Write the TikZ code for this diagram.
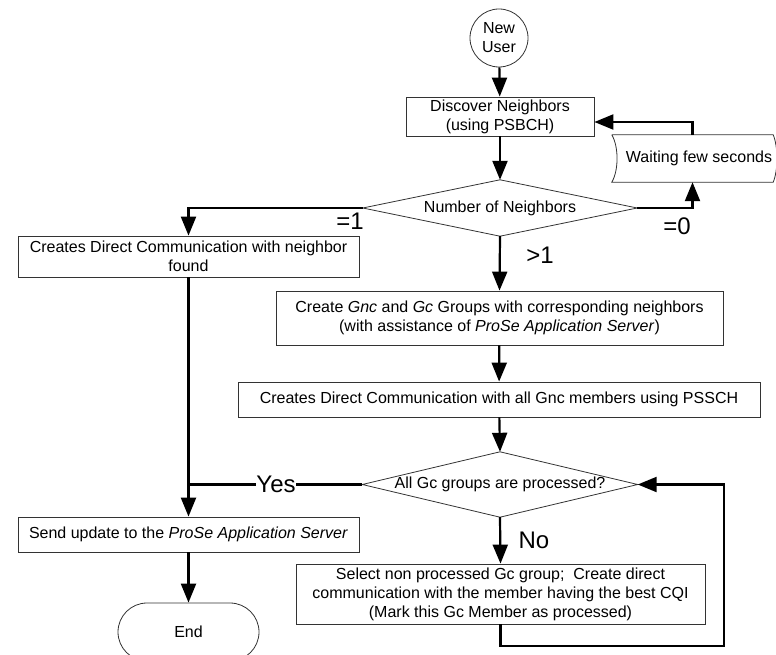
\documentclass[tikz,border=0pt]{standalone}
\usepackage{fontspec}
\setmainfont{Liberation Sans}
\usetikzlibrary{arrows.meta,calc}
\begin{document}
\begin{tikzpicture}[x=1pt,y=-1pt,
  txt/.style={inner sep=0pt, align=center, font=\fontsize{16}{19}\selectfont},
  box/.style={txt, draw=black!80, line width=0.8pt, rectangle},
  shapeline/.style={draw=black!80, line width=0.8pt},
  conn/.style={line width=2.2pt, -{Triangle[length=19pt,width=15pt]}},
  wire/.style={line width=2.2pt},
  lbl/.style={inner sep=1pt, font=\fontsize{24}{28}\selectfont}
]
\useasboundingbox (0,0) rectangle (776,655);

% nodes
\node[box, circle, minimum size=58pt] (start) at (499,38) {New\\User};
\node[box, minimum width=188pt, minimum height=39pt] (disc) at (500,116.5) {Discover Neighbors\\(using PSBCH)};
\node[txt, minimum width=161pt, minimum height=47pt] (wait) at (692.5,158.5) {\hspace*{13pt}Waiting few seconds};
\draw[shapeline] (wait.north west) -- (wait.north east)
  .. controls +(5,12) and +(5,-12) .. (wait.south east)
  -- (wait.south west)
  .. controls +(7,-12) and +(7,12) .. (wait.north west);
\node[txt, minimum width=274pt, minimum height=56pt] (dia1) at (500,208) {Number of Neighbors};
\draw[shapeline] (dia1.west) -- (dia1.north) -- (dia1.east) -- (dia1.south) -- cycle;
\node[box, minimum width=341pt, minimum height=41pt] (box1) at (188.5,256.5) {Creates Direct Communication with neighbor\\found};
\node[box, minimum width=447pt, minimum height=54pt] (gnc) at (499.5,318) {Create \textit{Gnc} and \textit{Gc} Groups with corresponding neighbors\\(with assistance of \textit{ProSe Application Server})};
\node[box, minimum width=522pt, minimum height=35pt] (pssch) at (499,399.5) {Creates Direct Communication with all Gnc members using PSSCH};
\node[txt, minimum width=275pt, minimum height=65pt] (dia2) at (500,484.5) {All Gc groups are processed?};
\draw[shapeline] (dia2.west) -- (dia2.north) -- (dia2.east) -- (dia2.south) -- cycle;
\node[box, minimum width=341pt, minimum height=35pt] (send) at (188.5,534.5) {Send update to the \textit{ProSe Application Server}};
\node[box, minimum width=141pt, minimum height=58pt, rounded corners=29pt] (end) at (188.5,632) {End};
\node[box, minimum width=409pt, minimum height=60pt] (sel) at (500.5,594) {Select non processed Gc group;\ \ Create direct\\communication with the member having the best CQI\\(Mark this Gc Member as processed)};

% connectors
\draw[conn] (start) -- (disc);
\draw[conn] (disc) -- (dia1);
\draw[conn] (wait.north) |- ([yshift=-5.5pt]disc.east);
\draw[conn] (dia1.east) -| (wait.south);
\draw[conn] (dia1.west) -| (box1.north);
\draw[conn] (dia1.south) -- (gnc.north);
\draw[conn] (gnc) -- (pssch);
\draw[conn] (pssch) -- (dia2.north);
\draw[conn] (dia2.south) -- (sel.north);
\coordinate (lp) at (724,646);
\draw[conn] (sel.south) |- (lp) |- (dia2.east);
\draw[conn] (box1.south) -- (send.north);
\draw[wire] (dia2.west) -- (dia2.west -| box1.south);
\draw[conn] (send) -- (end);

% labels
\node[lbl] (l0) at (677,226) {=0};
\node[lbl] (l1) at (350,221) {=1};
\node[lbl] (lg) at (540,255) {>1};
\node[lbl] (lno) at (534,540) {No};
\node[lbl, fill=white, inner sep=0pt] (lyes) at (276,484.5) {Yes};
\end{tikzpicture}
\end{document}
